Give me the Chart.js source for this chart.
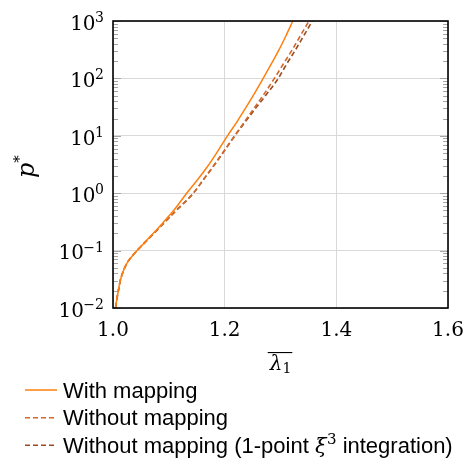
<!DOCTYPE html>
<html><head><meta charset="utf-8">
<script src="https://cdn.jsdelivr.net/npm/chart.js@4/dist/chart.umd.min.js"></script>
<style>html,body{margin:0;padding:0;background:#fff}canvas{display:block}</style>
</head><body>
<canvas id="c" width="470" height="461"></canvas>
<script>
// ---- data ----
const seriesNames = ['With mapping', 'Without mapping', 'Without mapping (1-point \u03BE\u00B3 integration)'];
const xTickValues = [1.0, 1.2, 1.4, 1.6];
const yTickExponents = [-2, -1, 0, 1, 2, 3];

const withMappingX = [1.0045, 1.007, 1.010, 1.013, 1.018, 1.024, 1.030, 1.036, 1.043, 1.055, 1.070, 1.090, 1.110, 1.132, 1.150, 1.168, 1.186, 1.205, 1.222, 1.238, 1.254, 1.269, 1.283, 1.297, 1.310, 1.322];
const withMappingY = [0.010, 0.0145, 0.021, 0.030, 0.043, 0.058, 0.071, 0.084, 0.100, 0.133, 0.19, 0.31, 0.52, 1.0, 1.65, 2.8, 5.1, 10, 17.5, 31, 56, 100, 175, 310, 560, 1000];

const withoutMappingX = [1.0045, 1.007, 1.010, 1.013, 1.018, 1.024, 1.030, 1.036, 1.043, 1.055, 1.070, 1.093, 1.115, 1.144, 1.163, 1.182, 1.200, 1.218, 1.236, 1.254, 1.272, 1.289, 1.305, 1.321, 1.336, 1.351];
const withoutMappingY = [0.010, 0.0145, 0.021, 0.030, 0.043, 0.058, 0.071, 0.084, 0.100, 0.132, 0.185, 0.316, 0.52, 1.0, 1.78, 3.16, 5.6, 10, 17.8, 31.6, 56, 100, 178, 316, 562, 1000];

const onePointX = [1.0045, 1.007, 1.010, 1.013, 1.018, 1.024, 1.030, 1.036, 1.043, 1.055, 1.070, 1.093, 1.115, 1.144, 1.163, 1.182, 1.200, 1.218, 1.2375, 1.257, 1.277, 1.296, 1.311, 1.327, 1.342, 1.357];
const onePointY = [0.010, 0.0145, 0.021, 0.030, 0.043, 0.058, 0.071, 0.084, 0.100, 0.132, 0.185, 0.316, 0.52, 1.0, 1.78, 3.16, 5.6, 10, 17.8, 31.6, 56, 100, 178, 316, 562, 1000];

const seriesColors = ['#ff7f0e', '#d2692a', '#9c4a1e'];

// ---- helpers ----
const SERIF = '"DejaVu Serif", "Liberation Serif", serif';
const SANS = '"Liberation Sans", Arial, sans-serif';
const pts = (xs, ys) => xs.map((x, i) => ({ x, y: ys[i] }));

const decor = {
  id: 'decor',
  beforeDatasetsDraw(chart) {
    const { ctx, chartArea: a, scales: { y } } = chart;
    ctx.save();
    ctx.strokeStyle = '#a6a6a6';
    ctx.lineWidth = 1;
    for (let e = -2; e <= 3; e++) {
      for (let k = 1; k <= 9; k++) {
        const v = k * Math.pow(10, e);
        if (v > 1000.0001) break;
        const py = Math.round(y.getPixelForValue(v)) + 0.5;
        const len = k === 1 ? 8 : 5;
        ctx.beginPath();
        ctx.moveTo(a.left, py); ctx.lineTo(a.left + len, py);
        ctx.moveTo(a.right, py); ctx.lineTo(a.right - len, py);
        ctx.stroke();
      }
    }
    ctx.restore();
  },
  afterDatasetsDraw(chart) {
    const { ctx, chartArea: a, scales: { x, y } } = chart;
    ctx.save();
    // frame
    ctx.strokeStyle = '#000';
    ctx.lineWidth = 1.6;
    ctx.strokeRect(a.left, a.top, a.right - a.left, a.bottom - a.top);

    ctx.fillStyle = '#000';
    ctx.textBaseline = 'alphabetic';
    // y tick labels 10^e
    const yRight = 104;
    for (const e of yTickExponents) {
      const py = y.getPixelForValue(Math.pow(10, e));
      const expStr = (e < 0 ? '\u2212' : '') + Math.abs(e);
      ctx.font = '14px ' + SERIF;
      const ew = ctx.measureText(expStr).width;
      ctx.textAlign = 'left';
      ctx.fillText(expStr, yRight - ew, py + 1);
      ctx.font = '20px ' + SERIF;
      const bw = ctx.measureText('10').width;
      ctx.fillText('10', yRight - ew - bw + 0.5, py + 8.8);
    }
    // x tick labels
    ctx.font = '20px ' + SERIF;
    ctx.textAlign = 'center';
    for (const v of xTickValues) {
      ctx.fillText(v.toFixed(1), x.getPixelForValue(v), 336);
    }
    // x title: overline lambda_1
    const cx = (a.left + a.right) / 2;
    ctx.font = 'italic 20px ' + SERIF;
    const lw = ctx.measureText('\u03BB').width;
    ctx.font = '14px ' + SERIF;
    const sw = ctx.measureText('1').width;
    const x0 = cx - (lw + sw) / 2;
    ctx.textAlign = 'left';
    ctx.font = 'italic 20px ' + SERIF;
    ctx.fillText('\u03BB', x0, 370);
    ctx.font = '14px ' + SERIF;
    ctx.fillText('1', x0 + lw, 373);
    ctx.fillRect(x0 - 2, 352, lw + sw + 3, 1.1);

    // y title: p*
    ctx.save();
    ctx.translate(34, 178);
    ctx.rotate(-Math.PI / 2);
    ctx.textAlign = 'left';
    ctx.font = 'italic 24px ' + SERIF;
    const pw = ctx.measureText('p').width;
    ctx.fillText('p', 0, 0);
    ctx.font = '15px ' + SERIF;
    ctx.fillText('*', pw, -10);
    ctx.restore();

    // legend
    const rows = [390, 417.7, 445.3];
    chart.data.datasets.forEach((ds, i) => {
      const ry = rows[i];
      ctx.save();
      ctx.strokeStyle = ds.borderColor;
      ctx.lineWidth = ds.borderWidth;
      ctx.setLineDash(ds.borderDash || []);
      ctx.beginPath();
      ctx.moveTo(25, ry); ctx.lineTo(57, ry);
      ctx.stroke();
      ctx.restore();
      ctx.textAlign = 'left';
      ctx.font = '22px ' + SANS;
      const tx = 63, ty = ry + 7.5;
      if (i < 2) {
        ctx.fillText(ds.label, tx, ty);
      } else {
        const p1 = 'Without mapping (1-point ';
        const p2 = ' integration)';
        ctx.font = '22px ' + SANS;
        ctx.fillText(p1, tx, ty);
        let cur = tx + ctx.measureText(p1).width;
        ctx.font = 'italic 21px ' + SERIF;
        ctx.fillText('\u03BE', cur, ty);
        cur += ctx.measureText('\u03BE').width + 0.5;
        ctx.font = '15px ' + SERIF;
        ctx.fillText('3', cur, ty - 8.5);
        cur += ctx.measureText('3').width;
        ctx.font = '22px ' + SANS;
        ctx.fillText(p2, cur, ty);
      }
    });
    ctx.restore();
  }
};

new Chart(document.getElementById('c'), {
  type: 'line',
  data: {
    datasets: [
      { label: seriesNames[0], data: pts(withMappingX, withMappingY), borderColor: seriesColors[0], borderWidth: 1.5, borderDash: [], pointRadius: 0, cubicInterpolationMode: 'monotone', fill: false },
      { label: seriesNames[1], data: pts(withoutMappingX, withoutMappingY), borderColor: seriesColors[1], borderWidth: 1.6, borderDash: [5, 3], pointRadius: 0, cubicInterpolationMode: 'monotone', fill: false },
      { label: seriesNames[2], data: pts(onePointX, onePointY), borderColor: seriesColors[2], borderWidth: 1.6, borderDash: [5, 3], pointRadius: 0, cubicInterpolationMode: 'monotone', fill: false }
    ]
  },
  options: {
    responsive: false,
    animation: false,
    events: [],
    layout: { padding: { left: 113, right: 22, top: 21, bottom: 153 } },
    plugins: { legend: { display: false }, tooltip: { enabled: false }, title: { display: false } },
    scales: {
      x: {
        type: 'linear', min: 1.0, max: 1.6,
        afterBuildTicks: s => { s.ticks = xTickValues.map(v => ({ value: v })); },
        ticks: { display: false },
        grid: { color: '#d9d9d9', lineWidth: 1, drawTicks: false },
        border: { display: false }
      },
      y: {
        type: 'logarithmic', min: 0.01, max: 1000,
        afterBuildTicks: s => { s.ticks = yTickExponents.map(e => ({ value: Math.pow(10, e) })); },
        ticks: { display: false },
        grid: { color: '#d9d9d9', lineWidth: 1, drawTicks: false },
        border: { display: false }
      }
    }
  },
  plugins: [decor]
});
</script>
</body></html>
